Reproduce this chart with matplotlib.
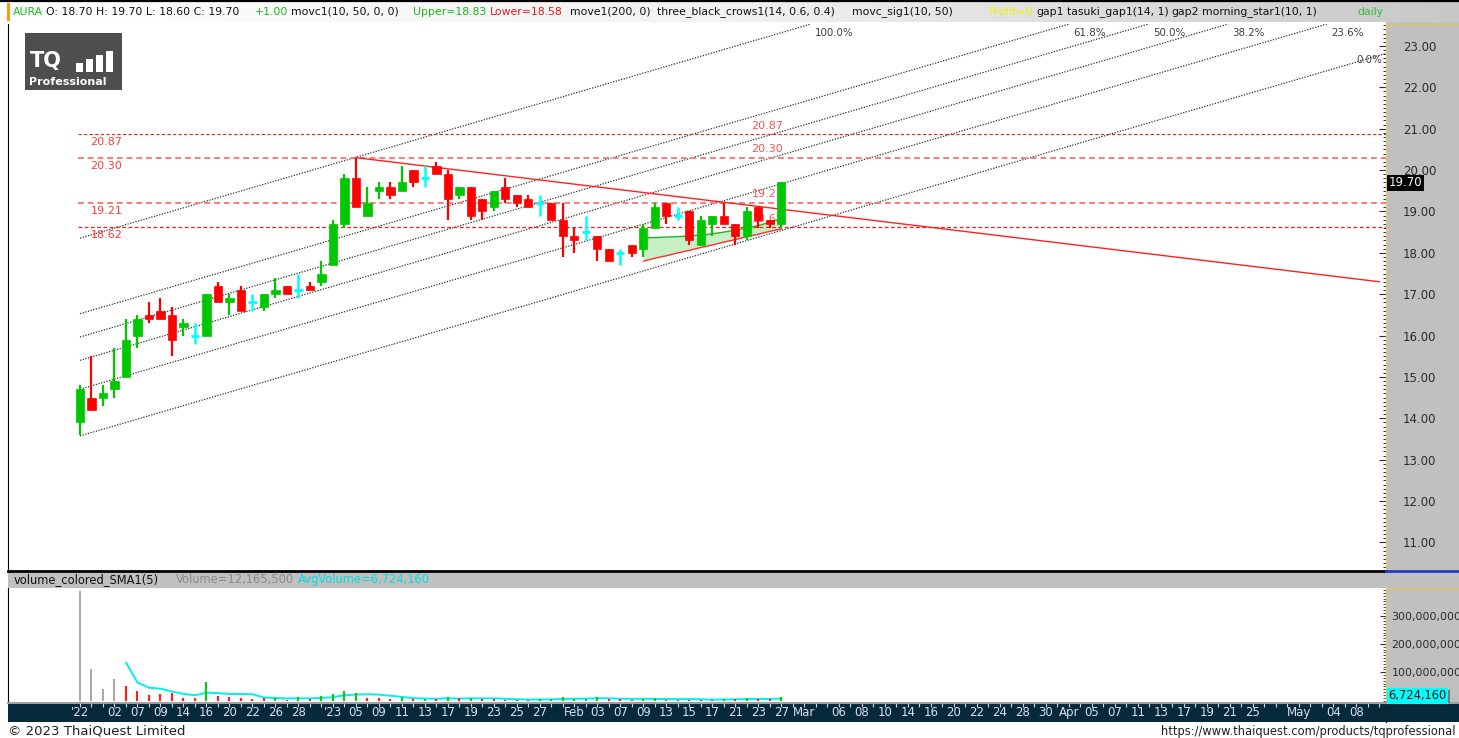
import matplotlib
matplotlib.use("Agg")
import matplotlib.pyplot as plt
import matplotlib.transforms as mtrans
from matplotlib.patches import Rectangle
from matplotlib.lines import Line2D
from matplotlib.colors import LinearSegmentedColormap
from matplotlib.ticker import FixedLocator, MultipleLocator, FuncFormatter
import numpy as np

# ---------------- data ----------------
symbol = "AURA"
opens  = [13.9, 14.5, 14.5, 14.7, 15.0, 16.0, 16.5, 16.6, 16.5, 16.2,
          16.0, 16.0, 17.2, 16.8, 17.1, 16.8, 16.7, 17.0, 17.2, 17.1,
          17.2, 17.3, 17.7, 18.7, 19.8, 18.9, 19.5, 19.6, 19.5, 20.0,
          19.8, 20.1, 19.9, 19.4, 19.6, 19.3, 19.1, 19.6, 19.4, 19.3,
          19.2, 19.2, 18.8, 18.4, 18.5, 18.4, 18.1, 18.0, 18.2, 18.1,
          18.6, 19.2, 18.9, 19.0, 18.2, 18.7, 18.9, 18.7, 18.4, 19.1,
          18.8, 18.7]
highs  = [14.8, 15.5, 14.8, 15.7, 16.4, 16.5, 16.8, 16.9, 16.7, 16.4,
          16.3, 17.0, 17.3, 17.0, 17.2, 17.0, 17.0, 17.4, 17.2, 17.5,
          17.3, 17.8, 18.8, 19.9, 20.3, 19.6, 19.7, 19.7, 20.1, 20.0,
          20.1, 20.2, 20.0, 19.6, 19.6, 19.3, 19.5, 19.8, 19.4, 19.4,
          19.4, 19.2, 19.2, 18.6, 18.9, 18.4, 18.1, 18.1, 18.2, 18.7,
          19.2, 19.2, 19.1, 19.0, 18.9, 18.9, 19.2, 18.7, 19.1, 19.1,
          18.8, 19.7]
lows   = [13.6, 14.2, 14.3, 14.5, 15.0, 15.7, 16.3, 16.4, 15.5, 16.0,
          15.8, 16.0, 16.8, 16.5, 16.6, 16.6, 16.6, 16.9, 17.0, 16.9,
          17.1, 17.2, 17.7, 18.6, 19.1, 18.9, 19.3, 19.3, 19.5, 19.6,
          19.6, 19.9, 18.8, 19.3, 18.8, 18.8, 19.0, 19.2, 19.1, 19.1,
          18.9, 18.8, 17.9, 18.0, 18.3, 17.8, 17.8, 17.7, 17.9, 17.9,
          18.6, 18.7, 18.8, 18.2, 18.2, 18.4, 18.7, 18.2, 18.3, 18.6,
          18.6, 18.6]
closes = [14.7, 14.2, 14.6, 14.9, 15.9, 16.4, 16.4, 16.4, 15.9, 16.3,
          16.0, 17.0, 16.8, 16.9, 16.6, 16.8, 17.0, 17.1, 17.0, 17.1,
          17.1, 17.5, 18.7, 19.8, 19.1, 19.2, 19.6, 19.4, 19.7, 19.7,
          19.8, 19.9, 19.3, 19.6, 18.9, 19.0, 19.5, 19.3, 19.2, 19.1,
          19.2, 18.8, 18.4, 18.3, 18.5, 18.1, 17.8, 18.0, 18.0, 18.6,
          19.1, 18.9, 18.9, 18.3, 18.8, 18.9, 18.7, 18.4, 19.0, 18.8,
          18.7, 19.7]
volumes = [388e6, 111e6, 42e6, 77e6, 52e6, 35e6, 20e6, 24e6, 28e6, 10e6,
           10e6, 66e6, 17e6, 12e6, 10e6, 6e6, 8e6, 9e6, 3e6, 14e6,
           4e6, 15e6, 24e6, 35e6, 27e6, 10e6, 8e6, 4e6, 14e6, 5e6,
           4e6, 4e6, 12e6, 8e6, 10e6, 4e6, 4e6, 3e6, 3e6, 3e6,
           5e6, 5e6, 12e6, 5e6, 6e6, 12e6, 4e6, 4e6, 3e6, 6e6,
           10e6, 3e6, 3e6, 3e6, 3e6, 3e6, 7e6, 5.0e6, 7.4e6, 5.0e6,
           4.05e6, 12.1655e6]
vol_colors = ["k", "k", "k", "k", "r", "r", "r", "r", "r", "r",
              "r", "g", "r", "r", "r", "r", "r", "g", "r", "g",
              "r", "g", "g", "g", "g", "r", "r", "r", "g", "r",
              "g", "r", "g", "r", "g", "r", "r", "r", "r", "r",
              "g", "g", "g", "g", "g", "g", "r", "r", "r", "g",
              "g", "r", "r", "r", "r", "r", "g", "r", "g", "r",
              "r", "g"]

x_labels = ["'22", "02", "07", "09", "14", "16", "20", "22", "26", "28",
            "'23", "05", "09", "11", "13", "17", "19", "23", "25", "27",
            "Feb", "03", "07", "09", "13", "15", "17", "21", "23", "27",
            "Mar", "06", "08", "10", "14", "16", "20", "22", "24", "28", "30",
            "Apr", "05", "07", "11", "13", "17", "19", "21", "25",
            "May", "04", "08"]
x_label_pos = [0, 3, 5, 7, 9, 11, 13, 15, 17, 19,
               22, 24, 26, 28, 30, 32, 34, 36, 38, 40,
               43, 45, 47, 49, 51, 53, 55, 57, 59, 61,
               63, 66, 68, 70, 72, 74, 76, 78, 80, 82, 84,
               86, 88, 90, 92, 94, 96, 98, 100, 102,
               106, 109, 111]

level_values = [20.87, 20.30, 19.21, 18.62]
level_labels = ["20.87", "20.30", "19.21", "18.62"]

fib_levels = [1.0, 0.618, 0.5, 0.382, 0.236, 0.0]
fib_names = ["100.0%", "61.8%", "50.0%", "38.2%", "23.6%", "0.0%"]
chan_base = 13.575     # channel base price at bar 0
chan_slope = 0.0814    # price per bar
chan_height = 4.78     # price distance of 100% line

trend_x = [24, 113]
trend_y = [20.30, 17.30]

band_start = 49
band_upper = [18.36, 18.37, 18.38, 18.39, 18.41, 18.43, 18.46, 18.50, 18.55, 18.60, 18.66, 18.74, 18.83]
band_lower = [17.80, 17.87, 17.93, 18.00, 18.06, 18.13, 18.19, 18.26, 18.32, 18.39, 18.45, 18.52, 18.58]

price_ticks = [11, 12, 13, 14, 15, 16, 17, 18, 19, 20, 21, 22, 23]
vol_ticks = [100e6, 200e6, 300e6]
last_price = 19.70
last_volume = 12165500
avg_volume = 6724160

# ---------------- layout helpers ----------------
W, H = 1459, 738
fig = plt.figure(figsize=(W / 100, H / 100), dpi=100)
fig.patch.set_facecolor("white")


def fx(px):
    return px / W


def fy(py):
    return 1 - py / H


XLIM = (-6.26, 113.57)
YLIM = (10.31, 23.53)
VLIM = (-8.8e6, 397.5e6)

GREEN = "#00c800"
RED = "#ff0000"
CYAN = "#00ffff"
PANEL = "#c0c0c0"
NAVY = "#062a3c"

# header gradient
hax = fig.add_axes([0, fy(22), 1, 22 / H])
cmap = LinearSegmentedColormap.from_list("hdr", ["#ffffff", "#f2f2f2", "#c8c8c8"])
hax.imshow(np.linspace(0, 1, 256).reshape(1, -1), cmap=cmap, aspect="auto",
           extent=[0, 1, 0, 1])
hax.set_axis_off()
fig.add_artist(Line2D([0, 1], [fy(0.8), fy(0.8)], color="black", lw=1.6))
fig.patches.append(Rectangle((fx(7), fy(21)), fx(3), 18 / H, transform=fig.transFigure,
                             fc="#ff9900", ec="none", zorder=3))

# right panels / bands (behind axes)
for (x0, y0, x1, y1, c) in [(1386, 22, 1459, 571, PANEL),
                            (1386, 588, 1459, 703, PANEL),
                            (8, 572, 1459, 588, PANEL),
                            (8, 703, 1459, 722, NAVY)]:
    fig.patches.append(Rectangle((fx(x0), fy(y1)), fx(x1 - x0), (y1 - y0) / H,
                                 transform=fig.transFigure, fc=c, ec="none", zorder=-1))
fig.add_artist(Line2D([fx(1386), 1], [fy(571), fy(571)], color="#2040c0", lw=2))
fig.add_artist(Line2D([fx(1386), 1], [fy(24.5), fy(24.5)], color="#e0c860", lw=1))
fig.add_artist(Line2D([fx(1386), 1], [fy(588.5), fy(588.5)], color="#e0c860", lw=1))
fig.add_artist(Line2D([fx(1386), fx(1386)], [fy(703), fy(722)], color="#202020", lw=1))
fig.add_artist(Line2D([fx(8), 1], [fy(703), fy(703)], color="#a0a0a0", lw=1.5))

# ---------------- main price axes ----------------
ax = fig.add_axes([fx(8), fy(571), fx(1378), (571 - 24) / H])
ax.set_xlim(*XLIM)
ax.set_ylim(*YLIM)
ax.set_facecolor("white")
n = len(closes)

# fib channel lines
for f, name in zip(fib_levels, fib_names):
    y0 = chan_base + f * chan_height
    xt = (YLIM[1] - y0) / chan_slope
    if xt <= XLIM[1]:
        xe, ye = xt, YLIM[1]
        ax.plot([0, xe], [y0, ye], color="#303030", lw=0.9, ls=(0, (1, 1.2)), zorder=2)
        ax.annotate(name, (xe, ye), xytext=(3, -6.5), textcoords="offset points",
                    ha="left", va="center", fontsize=7.4, color="#404040")
    else:
        xe = XLIM[1]
        ye = y0 + chan_slope * xe
        ax.plot([0, xe], [y0, ye], color="#303030", lw=0.9, ls=(0, (1, 1.2)), zorder=2)
        ax.annotate(name, (xe, ye), xytext=(-3, -4.5), textcoords="offset points",
                    ha="right", va="center", fontsize=7.4, color="#404040")

# horizontal levels
lvl_styles = {20.87: ("#ff1a1a", 0.8), 20.30: ("#ff7a7a", 1.4),
              19.21: ("#ff7a7a", 1.4), 18.62: ("#ff1a1a", 0.9)}
for v, lab in zip(level_values, level_labels):
    c, lw = lvl_styles[v]
    ax.plot([-0.2, XLIM[1]], [v, v], color=c, lw=lw, ls=(0, (3, 2)), zorder=2)
    ax.annotate(lab, (0.9, v), xytext=(0, -6), textcoords="offset points",
                ha="left", va="center", fontsize=8, color="#ff3a3a")
    ax.annotate(lab, (58.4, v), xytext=(0, 6), textcoords="offset points",
                ha="left", va="center", fontsize=8, color="#ff5050", zorder=2.5)

# trend line
ax.plot(trend_x, trend_y, color="#ff2020", lw=1.0, zorder=2.6)

# envelope band
bx = np.arange(band_start, band_start + len(band_upper))
ax.fill_between(bx, band_lower, band_upper, color="#b8ecb8", alpha=0.8, lw=0, zorder=1.5)
ax.plot(bx, band_upper, color="#22b022", lw=1.0, zorder=1.6)
ax.plot(bx, band_lower, color="#ff3030", lw=1.0, zorder=1.6)

# candles
bw = 0.7
for i in range(n):
    o, h, l, c = opens[i], highs[i], lows[i], closes[i]
    if abs(c - o) < 1e-9:
        col = CYAN
        ax.plot([i, i], [l, h], color=col, lw=1.8, zorder=3, solid_capstyle="butt")
        ax.plot([i - bw / 2, i + bw / 2], [o, o], color=col, lw=2.0, zorder=3,
                solid_capstyle="butt")
        continue
    col = GREEN if c > o else RED
    ax.plot([i, i], [l, h], color=col, lw=1.6, zorder=3, solid_capstyle="butt")
    ax.add_patch(Rectangle((i - bw / 2, min(o, c)), bw, abs(c - o),
                           fc=col, ec=col, lw=0.5, zorder=3.1))

ax.set_xticks([])
ax.yaxis.tick_right()
ax.yaxis.set_major_locator(FixedLocator(price_ticks))
ax.yaxis.set_major_formatter(FuncFormatter(lambda v, p: f"{v:.2f}"))
ax.yaxis.set_minor_locator(MultipleLocator(0.1))
ax.tick_params(axis="y", which="major", direction="in", length=5, width=0.8,
               pad=12, labelsize=8.5, labelcolor="#2a2a2a", color="#303030")
ax.tick_params(axis="y", which="minor", direction="in", length=2.2, width=0.7,
               color="#303030")
ax.spines["top"].set_visible(False)
ax.spines["right"].set_color("#e0c860")
ax.spines["left"].set_color("black")
ax.spines["bottom"].set_color("black")
ax.spines["bottom"].set_linewidth(2)

# ---------------- volume axes ----------------
axv = fig.add_axes([fx(8), fy(703), fx(1378), (703 - 588) / H])
axv.set_xlim(*XLIM)
axv.set_ylim(*VLIM)
cmapv = {"k": "#9a9a9a", "r": "#ff2020", "g": "#10c810"}
for i in range(n):
    axv.plot([i, i], [0, volumes[i]], color=cmapv[vol_colors[i]],
             lw=1.2 if vol_colors[i] == "k" else 1.6, solid_capstyle="butt", zorder=3)
sma = [np.mean(volumes[i - 4:i + 1]) for i in range(4, n)]
axv.plot(np.arange(4, n), sma, color="#00f0f0", lw=1.4, zorder=2)

axv.yaxis.tick_right()
axv.yaxis.set_major_locator(FixedLocator(vol_ticks))
axv.yaxis.set_major_formatter(FuncFormatter(lambda v, p: f"{int(v):,}"))
axv.yaxis.set_minor_locator(MultipleLocator(10e6))
axv.tick_params(axis="y", which="major", direction="in", length=4, width=0.8,
                pad=4, labelsize=7.9, labelcolor="#2a2a2a", color="#303030")
axv.tick_params(axis="y", which="minor", direction="in", length=2, width=0.6,
                color="#303030")
axv.set_xticks([])
axv.set_xticks(np.arange(0, 114), minor=True)
axv.tick_params(axis="x", which="minor", direction="out", length=3, width=0.8,
                color="#d0d6dc")
axv.spines["top"].set_visible(False)
axv.spines["bottom"].set_visible(False)
axv.spines["right"].set_color("#e0c860")
axv.spines["left"].set_color("black")

trans = mtrans.blended_transform_factory(axv.transData, axv.transAxes)
for p, lab in zip(x_label_pos, x_labels):
    axv.text(p, -9.5 / 115, lab, transform=trans, ha="center", va="center",
             fontsize=8.5, color="#d8e0e8", clip_on=False)

# ---------------- texts ----------------
renderer = fig.canvas.get_renderer()
hy = fy(12)
hdr = [(13, symbol, "#18b818"),
       (41, "O: 18.70 H: 19.70 L: 18.60 C: 19.70", "#101010"),
       (255, "+1.00", "#18b818"),
       (291, "movc1(10, 50, 0, 0)", "#101010"),
       (413, "Upper=18.83", "#18b818"),
       (490, "Lower=18.58", "#e81818"),
       (570, "move1(200, 0)", "#101010"),
       (657, "three_black_crows1(14, 0.6, 0.4)", "#101010"),
       (852, "movc_sig1(10, 50)", "#101010"),
       (989, "Profit=0", "#f0f000"),
       (1017, "gap1", "#101010"),
       (1049, "tasuki_gap1(14, 1)", "#101010"),
       (1157, "gap2", "#101010"),
       (1189, "morning_star1(10, 1)", "#101010"),
       (1357, "daily", "#30c030")]
prev_end = 0
for x, t, c in hdr:
    xp = max(x, prev_end + 3)
    tx = fig.text(fx(xp), hy, t, color=c, fontsize=7.8, ha="left", va="center")
    prev_end = tx.get_window_extent(renderer).x1

vy = fy(580)
prev_end = 0
for x, t, c in [(14, "volume_colored_SMA1(5)", "#101010"),
                (176, f"Volume={last_volume:,}", "#8a8a8a"),
                (298, f"AvgVolume={avg_volume:,}", "#00e0e0")]:
    xp = max(x, prev_end + 3)
    tx = fig.text(fx(xp), vy, t, color=c, fontsize=8.3, va="center", ha="left")
    prev_end = tx.get_window_extent(renderer).x1

fig.text(fx(1389), fy(183), f"{last_price:.2f}", color="white", fontsize=8.5, va="center",
         ha="left", bbox=dict(boxstyle="square,pad=0.15", fc="black", ec="none"))
fig.patches.append(Rectangle((fx(1442), fy(703)), fx(8), 13 / H, transform=fig.transFigure,
                             fc="#7a7a7a", ec="none", zorder=2))
fig.text(fx(1388), fy(696), f"{avg_volume:,}", color="#101010", fontsize=8.3, va="center",
         ha="left", bbox=dict(boxstyle="square,pad=0.12", fc="#00ffff", ec="none"))

fig.text(fx(8), fy(731), "© 2023 ThaiQuest Limited", color="#202020", fontsize=9.5,
         va="center", ha="left")
fig.text(fx(1455), fy(731), "https://www.thaiquest.com/products/tqprofessional",
         color="#202020", fontsize=8.3, va="center", ha="right")

# logo
fig.patches.append(Rectangle((fx(25), fy(90)), fx(97), 57 / H, transform=fig.transFigure,
                             fc="#4e4e4e", ec="none", zorder=2))
fig.text(fx(30), fy(61), "TQ", color="white", fontsize=15, fontweight="bold",
         va="center", ha="left", zorder=4)
for k, hh in enumerate([9, 13, 17, 21]):
    fig.patches.append(Rectangle((fx(76 + k * 10), fy(72)), fx(7), hh / H,
                                 transform=fig.transFigure, fc="white", ec="none", zorder=3))
fig.text(fx(29), fy(82), "Professional", color="white", fontsize=8, fontweight="bold",
         va="center", ha="left", zorder=4)

fig.savefig("out.png", dpi=100)
